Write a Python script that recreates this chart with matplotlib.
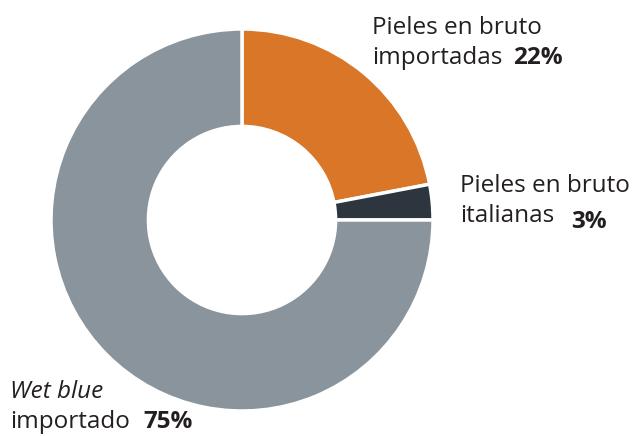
import matplotlib
matplotlib.use("Agg")
import matplotlib.pyplot as plt

labels = ["Pieles en bruto importadas", "Pieles en bruto italianas", "Wet blue importado"]
values = [22, 3, 75]
colors = ["#D97627", "#2D353F", "#8A949C"]

plt.rcParams['font.family'] = ['Open Sans', 'DejaVu Sans']

W, H = 642, 436
fig = plt.figure(figsize=(W / 100, H / 100), dpi=100)
ax = fig.add_axes([0, 0, 1, 1])

R = 191
ax.pie(values, colors=colors, startangle=90, counterclock=False, radius=R,
       center=(242, H - 220), frame=True,
       wedgeprops=dict(width=R * 0.51, edgecolor='white', linewidth=2.5))
ax.set_xlim(0, W)
ax.set_ylim(0, H)
ax.set_aspect('equal')
ax.axis('off')

fs = 17.5
tc = "#231F20"

def txt(x, y, s, **kw):
    ax.text(x, H - y, s, fontsize=fs, color=tc, va='baseline', **kw)

txt(372, 34, "Pieles en bruto")
txt(372, 64, "importadas")
txt(513, 64, f"{values[0]}%", fontweight='bold')
txt(460, 192, "Pieles en bruto")
txt(460, 222, "italianas")
txt(571, 228, f"{values[1]}%", fontweight='bold')
txt(10, 398, "Wet blue", style='italic')
txt(10, 428, "importado")
txt(143, 428, f"{values[2]}%", fontweight='bold')

fig.savefig("out.png", dpi=100)
